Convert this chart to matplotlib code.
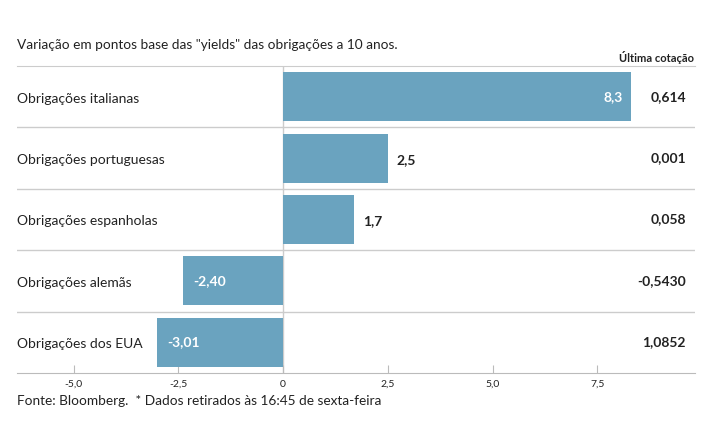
import matplotlib.pyplot as plt

plt.rcParams['font.family'] = ['Lato', 'DejaVu Sans']

# Data
categories = ['Obrigações italianas', 'Obrigações portuguesas', 'Obrigações espanholas',
              'Obrigações alemãs', 'Obrigações dos EUA']
variation = [8.3, 2.5, 1.7, -2.40, -3.01]
variation_labels = ['8,3', '2,5', '1,7', '-2,40', '-3,01']
last_quote = ['0,614', '0,001', '0,058', '-0,5430', '1,0852']
xticks = [-5.0, -2.5, 0, 2.5, 5.0, 7.5]
xtick_labels = ['-5,0', '-2,5', '0', '2,5', '5,0', '7,5']

bar_color = '#6aa3bf'
grid_color = '#cccccc'
text_color = '#222222'

fig = plt.figure(figsize=(7.15, 4.45), dpi=100)
ax = fig.add_axes([17 / 715, 1 - 373 / 445, (695 - 17) / 715, (373 - 66) / 445])

ypos = list(range(len(categories)))
ax.barh(ypos, variation, height=0.8, color=bar_color, zorder=2)
ax.set_xlim(-6.35, 9.83)
ax.set_ylim(len(categories) - 0.5, -0.5)

# Row separators and zero line
for y in [0.5, 1.5, 2.5, 3.5]:
    ax.axhline(y, color=grid_color, linewidth=1, zorder=1)
ax.axvline(0, color=grid_color, linewidth=1, zorder=1)

for s in ['left', 'right']:
    ax.spines[s].set_visible(False)
ax.spines['top'].set_color(grid_color)
ax.spines['bottom'].set_color('#bbbbbb')

ax.set_yticks([])
ax.set_xticks(xticks)
ax.set_xticklabels(xtick_labels, fontsize=7.5, color=text_color)
ax.tick_params(axis='x', direction='in', length=6, color='#bbbbbb', pad=5)

# Row labels, value labels and last quote column
x0, x1 = ax.get_xlim()
for y, name, v, lab, q in zip(ypos, categories, variation, variation_labels, last_quote):
    ax.text(x0, y + 0.03, name, ha='left', va='center', fontsize=10, color=text_color)
    if v > 5:
        ax.text(v - 0.2, y, lab, ha='right', va='center', fontsize=10,
                fontweight='bold', color='white', zorder=3)
    elif v < 0:
        ax.text(v + 0.25, y, lab, ha='left', va='center', fontsize=10,
                fontweight='bold', color='white', zorder=3)
    else:
        ax.text(v + 0.2, y + 0.03, lab, ha='left', va='center', fontsize=10,
                fontweight='bold', color=text_color, zorder=3)
    ax.text(x1 - 0.22, y, q, ha='right', va='center', fontsize=10,
            fontweight='bold', color=text_color)

fig.text(17 / 715, 1 - 45 / 445, 'Variação em pontos base das "yields" das obrigações a 10 anos.',
         ha='left', va='center', fontsize=9.8, color=text_color)
fig.text(694 / 715, 1 - 57 / 445, 'Última cotação', ha='right', va='center',
         fontsize=8, fontweight='bold', color=text_color)
fig.text(17 / 715, 1 - 401 / 445, 'Fonte: Bloomberg.  * Dados retirados às 16:45 de sexta-feira',
         ha='left', va='center', fontsize=9.8, color=text_color)

fig.savefig('out.png', dpi=100)
